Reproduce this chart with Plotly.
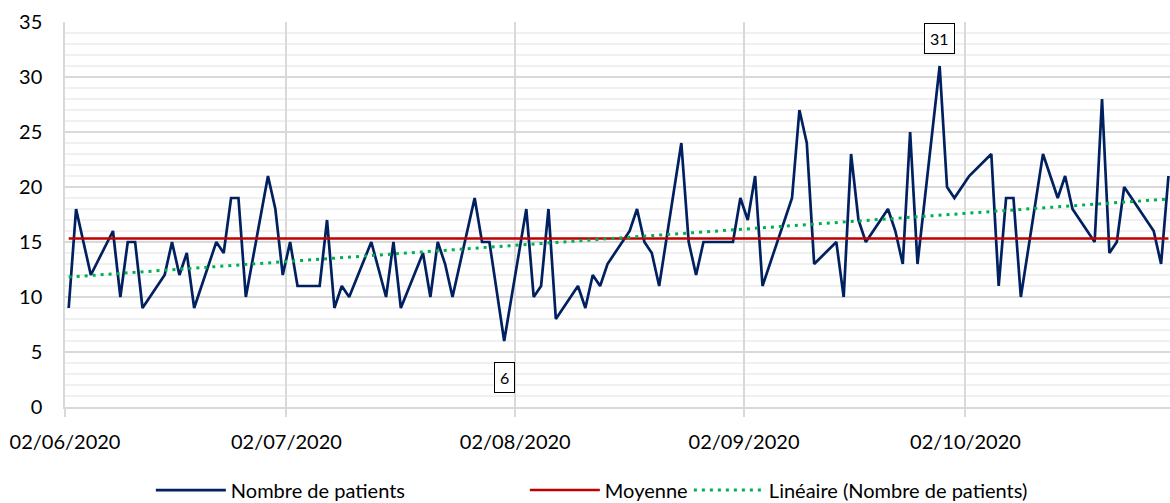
import numpy as np
import pandas as pd
import plotly.graph_objects as go

# ---- Data ----
dates = [
    "2020-06-02", "2020-06-03", "2020-06-05", "2020-06-08", "2020-06-09", "2020-06-10", "2020-06-11", "2020-06-12",
    "2020-06-15", "2020-06-16", "2020-06-17", "2020-06-18", "2020-06-19", "2020-06-22", "2020-06-23", "2020-06-24",
    "2020-06-25", "2020-06-26", "2020-06-29", "2020-06-30",
    "2020-07-01", "2020-07-02", "2020-07-03", "2020-07-06", "2020-07-07", "2020-07-08", "2020-07-09", "2020-07-10",
    "2020-07-13", "2020-07-15", "2020-07-16", "2020-07-17", "2020-07-20", "2020-07-21", "2020-07-22", "2020-07-23",
    "2020-07-24", "2020-07-27", "2020-07-28", "2020-07-29", "2020-07-31",
    "2020-08-03", "2020-08-04", "2020-08-05", "2020-08-06", "2020-08-07", "2020-08-10", "2020-08-11", "2020-08-12",
    "2020-08-13", "2020-08-14", "2020-08-17", "2020-08-18", "2020-08-19", "2020-08-20", "2020-08-21", "2020-08-24",
    "2020-08-25", "2020-08-26", "2020-08-27", "2020-08-31",
    "2020-09-01", "2020-09-02", "2020-09-03", "2020-09-04", "2020-09-08", "2020-09-09", "2020-09-10", "2020-09-11",
    "2020-09-14", "2020-09-15", "2020-09-16", "2020-09-17", "2020-09-18", "2020-09-21", "2020-09-22", "2020-09-23",
    "2020-09-24", "2020-09-25", "2020-09-28", "2020-09-29", "2020-09-30",
    "2020-10-02", "2020-10-05", "2020-10-06", "2020-10-07", "2020-10-08", "2020-10-09", "2020-10-12", "2020-10-14",
    "2020-10-15", "2020-10-16", "2020-10-19", "2020-10-20", "2020-10-21", "2020-10-22", "2020-10-23", "2020-10-27",
    "2020-10-28", "2020-10-29",
]
patients = [
    9, 18, 12, 16, 10, 15, 15, 9,
    12, 15, 12, 14, 9, 15, 14, 19,
    19, 10, 21, 18,
    12, 15, 11, 11, 17, 9, 11, 10,
    15, 10, 15, 9, 14, 10, 15, 13,
    10, 19, 15, 15, 6,
    18, 10, 11, 18, 8, 11, 9, 12,
    11, 13, 16, 18, 15, 14, 11, 24,
    15, 12, 15, 15,
    19, 17, 21, 11, 19, 27, 24, 13,
    15, 10, 23, 17, 15, 18, 16, 13,
    25, 13, 31, 20, 19,
    21, 23, 11, 19, 19, 10, 23, 19,
    21, 18, 15, 28, 14, 15, 20, 16,
    13, 21,
]
tick_dates = ["2020-06-02", "2020-07-02", "2020-08-02", "2020-09-02", "2020-10-02"]
tick_labels = ["02/06/2020", "02/07/2020", "02/08/2020", "02/09/2020", "02/10/2020"]
series_names = ["Nombre de patients", "Moyenne", "Linéaire (Nombre de patients)"]

# ---- Derived ----
d = pd.to_datetime(dates)
x = d + pd.Timedelta(hours=12)  # Excel plots points mid-day on a date axis
y = np.array(patients, dtype=float)
mean_val = y.mean()
days = (d - d[0]).days.values.astype(float)
slope, intercept = np.polyfit(days, y, 1)
trend_x = [x[0], x[-1]]
trend_y = [intercept + slope * days[0], intercept + slope * days[-1]]

imax = int(np.argmax(y))
imin = int(np.argmin(y))

FONT = "Lato"
GRID = "#d9d9d9"

fig = go.Figure()
fig.add_trace(go.Scatter(x=x, y=y, mode="lines", name=series_names[0], legendwidth=289,
                         line=dict(color="#002060", width=2.7)))
fig.add_trace(go.Scatter(x=[x[0], x[-1]], y=[mean_val, mean_val], mode="lines", name=series_names[1],
                         legendwidth=79, line=dict(color="#C00000", width=2.6)))
fig.add_trace(go.Scatter(x=trend_x, y=trend_y, mode="lines", name=series_names[2],
                         line=dict(color="#00B050", width=3, dash="3px,5px")))

for i, shift in [(imax, 28), (imin, -36)]:
    fig.add_annotation(x=x[i], y=y[i], text=str(int(y[i])), showarrow=False, yshift=shift,
                       font=dict(family=FONT, size=16, color="#000000"),
                       bgcolor="white", bordercolor="#000000", borderwidth=1, borderpad=5)

fig.update_layout(
    width=1170, height=503,
    margin=dict(l=65, r=0, t=22, b=96, autoexpand=False),
    paper_bgcolor="white", plot_bgcolor="white",
    font=dict(family=FONT, size=20, color="#000000"),
    showlegend=True,
    legend=dict(orientation="h", x=0.0777, xanchor="left", y=-0.165, yanchor="top",
                font=dict(family=FONT, size=20, color="#000000"), itemwidth=70),
)
fig.update_xaxes(
    type="date", automargin=False,
    range=[pd.Timestamp("2020-06-02"), pd.Timestamp("2020-10-29 17:00")],
    tickmode="array", tickvals=tick_dates, ticktext=tick_labels,
    showgrid=True, gridcolor=GRID, gridwidth=1.5,
    showline=True, linecolor=GRID, linewidth=1.5,
    ticks="outside", ticklen=8, tickcolor=GRID, tickwidth=1.5,
    ticklabelstandoff=8,
    tickfont=dict(family=FONT, size=20),
    zeroline=False,
)
fig.update_yaxes(
    automargin=False,
    range=[0, 35], dtick=5, tick0=0,
    showgrid=True, gridcolor=GRID, gridwidth=1.5,
    minor=dict(dtick=1, showgrid=True, gridcolor="#f0f0f0", gridwidth=1.5),
    showline=True, linecolor=GRID, linewidth=1.5,
    ticks="", ticklabelstandoff=17,
    tickfont=dict(family=FONT, size=20),
    zeroline=False,
)

fig.write_html("out.html", config={"displayModeBar": False},
               post_script="document.body.style.margin='0';document.body.style.overflow='hidden';")
